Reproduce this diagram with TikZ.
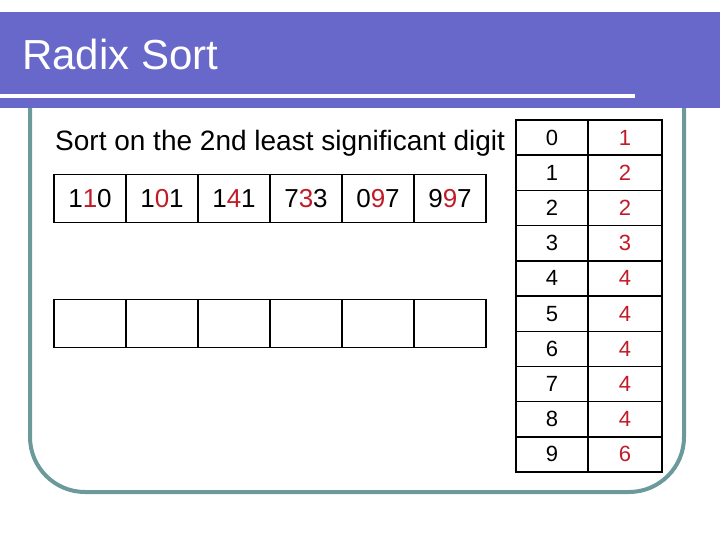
\documentclass[tikz,border=0pt]{standalone}
\usepackage{fontspec}
\setmainfont{Liberation Sans}
\usepackage{tikz}
\definecolor{barblue}{RGB}{104,104,202}
\definecolor{framegray}{RGB}{108,154,154}
\definecolor{digred}{RGB}{192,28,40}
\tikzset{
  bucket/.style={draw, line width=1.4pt, minimum width=72pt, minimum height=48pt, inner sep=0pt, font=\fontsize{26}{26}\selectfont},
  countcell/.style={draw, line width=1.4pt, minimum height=35.2pt, inner sep=0pt, font=\fontsize{22}{22}\selectfont}
}
\newcommand{\hl}[1]{\textcolor{digred}{#1}}

\begin{document}
\begin{tikzpicture}[x=1pt, y=-1pt]
    \useasboundingbox (0,0) rectangle (720,540);
    % rounded frame
    \draw[framegray, line width=4pt, rounded corners=55pt] (30,100) -- (30,492) -- (684,492) -- (684,100);
    % title bar
    \fill[barblue] (0,12) rectangle (720,108);
    \fill[white] (0,94) rectangle (635,98);
    \node[anchor=base west, text=white, inner sep=0pt, font=\fontsize{42}{42}\selectfont] (title) at (22,70) {Radix Sort};
    \node[anchor=base west, inner sep=0pt, font=\fontsize{28}{28}\selectfont] (caption) at (55,151) {Sort on the 2nd least significant digit};
    % input keys
    \node[bucket] (k1) at (90,198.5) {1\hl{1}0};
    \node[bucket] (k2) at (162,198.5) {1\hl{0}1};
    \node[bucket] (k3) at (234,198.5) {1\hl{4}1};
    \node[bucket] (k4) at (306,198.5) {7\hl{3}3};
    \node[bucket] (k5) at (378,198.5) {0\hl{9}7};
    \node[bucket] (k6) at (450,198.5) {9\hl{9}7};
    % output slots
    \node[bucket] (o1) at (90,323.5) {};
    \node[bucket] (o2) at (162,323.5) {};
    \node[bucket] (o3) at (234,323.5) {};
    \node[bucket] (o4) at (306,323.5) {};
    \node[bucket] (o5) at (378,323.5) {};
    \node[bucket] (o6) at (450,323.5) {};
    % count table
    \foreach \d/\c [count=\i from 0] in {0/1,1/2,2/2,3/3,4/4,5/4,6/4,7/4,8/4,9/6} {
      \node[countcell, minimum width=72pt] (d\i) at (552,137.6+35.2*\i) {\d};
      \node[countcell, minimum width=74pt, text=digred] (c\i) at (625,137.6+35.2*\i) {\c};
    }
\end{tikzpicture}
\end{document}
